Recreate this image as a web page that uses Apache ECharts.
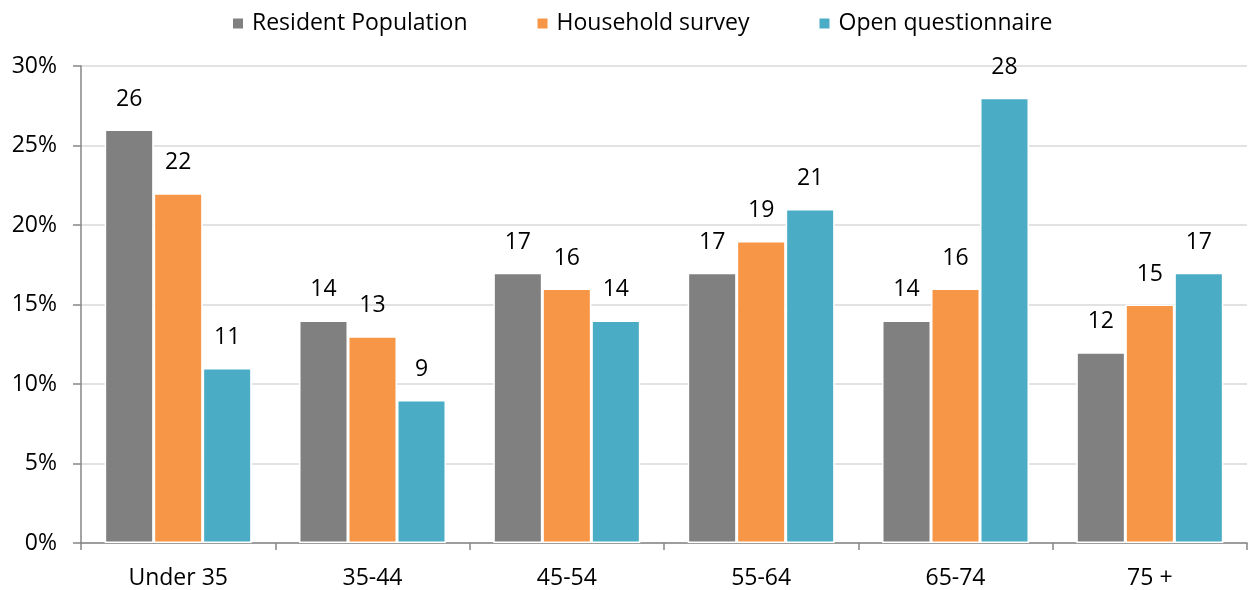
<!DOCTYPE html>
<html><head><meta charset="utf-8">
<script src="https://cdn.jsdelivr.net/npm/echarts@6/dist/echarts.min.js"></script>
<style>html,body{margin:0;padding:0;background:#fff}#c{width:1249px;height:590px}</style>
</head><body><div id="c"></div>
<script>
const categories = ['Under 35','35-44','45-54','55-64','65-74','75 +'];
const seriesNames = ['Resident Population','Household survey','Open questionnaire'];
const resident = [26,14,17,17,14,12];
const household = [22,13,16,19,16,15];
const openQ = [11,9,14,21,28,17];
const yTicks = [0,5,10,15,20,25,30];
const colors = ['#808080','#F79646','#4BACC6'];
const FONT = '"Open Sans", "Liberation Sans", sans-serif';

const chart = echarts.init(document.getElementById('c'));
const mk = (name, data, i) => ({
  name, type:'bar', data,
  barWidth: 49, barGap: '0%',
  itemStyle:{color:colors[i], borderColor:'#fff', borderWidth:1.5},
  label:{show:true, position:'top', distance:19, color:'#000', fontSize:23, fontFamily:FONT},
  animation:false
});
chart.setOption({
  animation:false,
  color: colors,
  textStyle:{fontFamily:FONT},
  legend:{
    top:7, left:226, itemWidth:12, itemHeight:12, itemGap:68,
    icon:'rect',
    textStyle:{fontSize:23, color:'#000', fontFamily:FONT, padding:[0,0,0,3]},
    data: seriesNames
  },
  grid:{left:81, right:2, top:66, bottom:47, containLabel:false},
  xAxis:{
    type:'category', data:categories,
    axisLine:{lineStyle:{color:'#868686', width:1.5}},
    axisTick:{show:true, length:7, lineStyle:{color:'#868686', width:1.5}},
    axisLabel:{fontSize:23, color:'#000', margin:24, fontFamily:FONT},
  },
  yAxis:{
    type:'value', min:yTicks[0], max:yTicks[yTicks.length-1], interval:5,
    axisLine:{show:true, lineStyle:{color:'#868686', width:1.5}},
    axisTick:{show:true, length:8, lineStyle:{color:'#868686', width:1.5}},
    axisLabel:{fontSize:23, color:'#000', margin:24, formatter:'{value}%', fontFamily:FONT},
    splitLine:{show:true, lineStyle:{color:'#d9d9d9', width:1.5}}
  },
  series:[mk(seriesNames[0],resident,0), mk(seriesNames[1],household,1), mk(seriesNames[2],openQ,2)]
});
</script></body></html>
